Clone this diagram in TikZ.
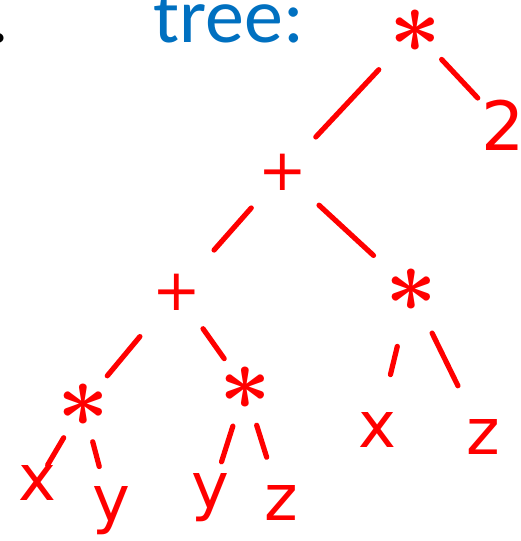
\RequirePackage{fix-cm}
\documentclass[tikz,border=0pt]{standalone}
\usepackage{fontspec}
\newfontfamily\titlefont{Carlito}
\newfontfamily\handfont{DejaVu Sans}
\definecolor{Pen}{HTML}{FF0000}
\definecolor{Title}{HTML}{0070C0}

\begin{document}
\begin{tikzpicture}[
  x=1pt, y=-1pt,
  leaf/.style={text=Pen, inner sep=0pt, font=\handfont\fontsize{64}{64}\selectfont},
  op/.style={text=Pen, inner sep=0pt, font=\handfont\fontsize{58}{58}\selectfont},
  star/.style={text=Pen, inner sep=0pt, font=\fontsize{90}{90}\selectfont\boldmath},
  link/.style={draw=Pen, line width=5.2pt, line cap=round}
]
\useasboundingbox (0,0) rectangle (520,541);

% heading
\node[anchor=base west, inner sep=0pt, font=\titlefont\fontsize{78}{78}\selectfont] (dot) at (-11,42) {.};
\node[anchor=base west, inner sep=0pt, text=Title, font=\titlefont\fontsize{78}{78}\selectfont] (title) at (153,42) {tree:};

% operators
\node[star] (root) at (415,31) {$\ast$};
\node[op] (plusA) at (283,172) {+};
\node[op] (plusB) at (177,292) {+};
\node[star] (starR) at (411,290) {$\ast$};
\node[star] (starL) at (83,405) {$\ast$};
\node[star] (starM) at (245,388) {$\ast$};

% leaves
\node[leaf, font=\handfont\fontsize{68}{68}\selectfont] (two) at (503,125) {2};
\node[leaf] (xR) at (377,430) {x};
\node[leaf] (zR) at (483,437) {z};
\node[leaf] (xL) at (37,483) {x};
\node[leaf] (yL) at (111,511) {y};
\node[leaf] (yM) at (210,498) {y};
\node[leaf] (zM) at (281,503) {z};

% edges
\draw[link, shorten <=53pt, shorten >=48pt] (root.center) -- (plusA.center);
\draw[link, shorten <=39pt, shorten >=37pt] (root.center) -- (two.center);
\draw[link, shorten <=48pt, shorten >=56pt] (plusA.center) -- (plusB.center);
\draw[link, shorten <=49pt, shorten >=51pt] (plusA.center) -- (starR.center);
\draw[link, shorten <=58pt, shorten >=38pt] (plusB.center) -- (starL.center);
\draw[link, shorten <=45pt, shorten >=36pt] (plusB.center) -- (starM.center);
\draw[link, shorten <=58pt, shorten >=57pt] (starR.center) -- (xR.center);
\draw[link, shorten <=48pt, shorten >=57pt] (starR.center) -- (zR.center);
\draw[link, shorten <=38pt, shorten >=21pt] (starL.center) -- (xL.center);
\draw[link, shorten <=38pt, shorten >=46pt] (starL.center) -- (yL.center);
\draw[link, shorten <=40pt, shorten >=38pt] (starM.center) -- (yM.center);
\draw[link, shorten <=39pt, shorten >=48pt] (starM.center) -- (zM.center);
\end{tikzpicture}
\end{document}
